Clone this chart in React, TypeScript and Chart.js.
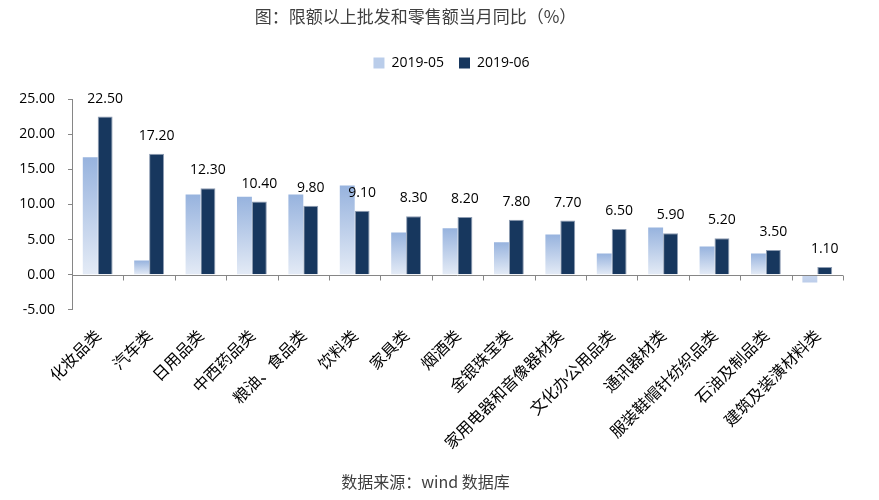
import React, { useEffect, useRef } from "react";
import { Chart, registerables } from "chart.js";

Chart.register(...registerables);

const categories = [
  "化妆品类", "汽车类", "日用品类", "中西药品类", "粮油、食品类", "饮料类", "家具类", "烟酒类",
  "金银珠宝类", "家用电器和音像器材类", "文化办公用品类", "通讯器材类", "服装鞋帽针纺织品类",
  "石油及制品类", "建筑及装潢材料类",
];
const may2019 = [16.7, 2.0, 11.4, 11.1, 11.4, 12.7, 6.0, 6.6, 4.6, 5.7, 3.0, 6.7, 4.0, 3.0, -1.1];
const jun2019 = [22.5, 17.2, 12.3, 10.4, 9.8, 9.1, 8.3, 8.2, 7.8, 7.7, 6.5, 5.9, 5.2, 3.5, 1.1];
const seriesNames = ["2019-05", "2019-06"];
const yMin = -5;
const yMax = 25;
const yStep = 5;

const AXIS_COLOR = "#868686";
const NUM_FONT = "'Open Sans', 'Noto Sans', sans-serif";
const CJK_FONT = "'Noto Sans CJK SC', sans-serif";
const LEGEND_EXTRA_BOTTOM = 19;
const LEGEND_SHIFT_X = 26;
const TITLE_SHIFT_X = -10;

const legendSpacer = {
  id: "legendSpacer",
  beforeLayout(chart: any) {
    const lg = chart.legend;
    if (lg && !lg.__spacerPatched) {
      const orig = lg.fit.bind(lg);
      lg.fit = function () {
        orig();
        this.height += LEGEND_EXTRA_BOTTOM;
      };
      lg.__spacerPatched = true;
    }
  },
  afterLayout(chart: any) {
    const lg = chart.legend;
    if (lg) {
      lg.left += LEGEND_SHIFT_X;
      lg.right += LEGEND_SHIFT_X;
    }
    const tb = chart.titleBlock;
    if (tb) {
      tb.left += TITLE_SHIFT_X;
      tb.right += TITLE_SHIFT_X;
    }
  },
};

const axisPlugin = {
  id: "zeroAxis",
  afterDatasetsDraw(chart: any) {
    const { ctx, chartArea, scales } = chart;
    const y0 = Math.round(scales.y.getPixelForValue(0)) + 0.5;
    ctx.save();
    ctx.strokeStyle = AXIS_COLOR;
    ctx.lineWidth = 1;
    ctx.beginPath();
    ctx.moveTo(chartArea.left, y0);
    ctx.lineTo(chartArea.right, y0);
    const n = categories.length;
    const w = (chartArea.right - chartArea.left) / n;
    for (let k = 1; k <= n; k++) {
      const x = Math.round(chartArea.left + k * w) + 0.5;
      ctx.moveTo(x, y0);
      ctx.lineTo(x, y0 + 5);
    }
    ctx.stroke();
    ctx.restore();
  },
};

const labelPlugin = {
  id: "valueLabels",
  afterDatasetsDraw(chart: any) {
    const { ctx } = chart;
    const meta = chart.getDatasetMeta(1);
    ctx.save();
    ctx.font = `14px ${NUM_FONT}`;
    ctx.fillStyle = "#000000";
    ctx.textAlign = "center";
    ctx.textBaseline = "middle";
    meta.data.forEach((bar: any, i: number) => {
      const v = jun2019[i];
      ctx.fillText(v.toFixed(2), bar.x, bar.y - 18);
    });
    ctx.restore();
  },
};

export default function App() {
  const ref = useRef<HTMLCanvasElement | null>(null);

  useEffect(() => {
    if (!ref.current) return;
    const lightFill = (c: any) => {
      const chart = c.chart;
      const ys = chart.scales && chart.scales.y;
      const v = typeof c.raw === "number" ? c.raw : 0;
      if (!ys || c.type !== "data") return "#b8cbe8";
      const top = ys.getPixelForValue(Math.max(v, 0));
      const bottom = ys.getPixelForValue(Math.min(v, 0));
      if (!isFinite(top) || !isFinite(bottom) || bottom - top < 1) return "#b8cbe8";
      const g = chart.ctx.createLinearGradient(0, top, 0, bottom);
      if (v >= 0) {
        g.addColorStop(0, "#97B3DE");
        g.addColorStop(1, "#E4EBF6");
      } else {
        g.addColorStop(0, "#C9D7EE");
        g.addColorStop(1, "#BCCDEA");
      }
      return g;
    };

    const chart = new Chart(ref.current, {
      type: "bar",
      data: {
        labels: categories,
        datasets: [
          {
            label: seriesNames[0],
            data: may2019,
            backgroundColor: lightFill,
            borderWidth: 0,
            categoryPercentage: 0.58,
            barPercentage: 1,
          },
          {
            label: seriesNames[1],
            data: jun2019,
            backgroundColor: "#17375E",
            borderColor: "#8E9DB3",
            borderWidth: 1,
            categoryPercentage: 0.58,
            barPercentage: 1,
          },
        ],
      },
      options: {
        animation: false,
        responsive: true,
        maintainAspectRatio: false,
        layout: { padding: { left: 0, right: 28, top: 0, bottom: 0 } },
        plugins: {
          title: {
            display: true,
            text: "图：限额以上批发和零售额当月同比（%）",
            color: "#404040",
            font: { family: CJK_FONT, size: 17, weight: "normal", lineHeight: 1.0 },
            padding: { top: 0, bottom: 16 },
          },
          subtitle: {
            display: true,
            position: "bottom",
            text: "数据来源：wind 数据库",
            color: "#404040",
            font: { family: CJK_FONT, size: 16, weight: "normal" },
            padding: { top: 0, bottom: 0 },
          },
          legend: {
            display: true,
            position: "top",
            labels: {
              boxWidth: 11,
              boxHeight: 11,
              padding: 15,
              color: "#000000",
              font: { family: NUM_FONT, size: 14 },
              generateLabels: (ch: any) =>
                seriesNames.map((name, i) => ({
                  text: name,
                  fillStyle: i === 0 ? "#BACDEA" : "#17375E",
                  strokeStyle: i === 0 ? "#BACDEA" : "#17375E",
                  lineWidth: 0,
                  hidden: !ch.isDatasetVisible(i),
                  datasetIndex: i,
                })),
            },
          },
          tooltip: { enabled: false },
        },
        scales: {
          x: {
            grid: { display: false, drawTicks: false },
            border: { display: false },
            ticks: {
              minRotation: 45,
              maxRotation: 45,
              autoSkip: false,
              padding: 16,
              color: "#000000",
              font: { family: CJK_FONT, size: 16 },
            },
            afterFit: (s: any) => {
              s.height = 163;
            },
          },
          y: {
            min: yMin,
            max: yMax,
            grid: {
              drawOnChartArea: false,
              drawTicks: true,
              tickLength: 4,
              color: AXIS_COLOR,
            },
            border: { display: true, color: AXIS_COLOR },
            ticks: {
              stepSize: yStep,
              padding: 13,
              color: "#000000",
              font: { family: NUM_FONT, size: 14 },
              callback: (v: any) => Number(v).toFixed(2),
            },
            afterFit: (s: any) => {
              s.width = 64;
            },
          },
        },
      },
      plugins: [legendSpacer, axisPlugin, labelPlugin],
    });
    return () => chart.destroy();
  }, []);

  return (
    <div style={{ width: 863, height: 484, position: "relative" }}>
      <canvas ref={ref} />
    </div>
  );
}
